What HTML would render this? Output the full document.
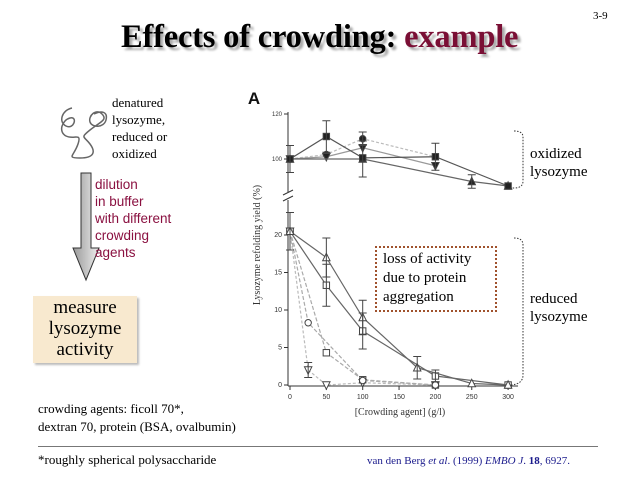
<!DOCTYPE html>
<html><head><meta charset="utf-8"><style>
body{margin:0;background:#fff;width:638px;height:479px;overflow:hidden;position:relative;font-family:"Liberation Serif",serif}
.a{position:absolute;white-space:nowrap}
</style></head><body>
<div class="a" style="left:593px;top:10px;font-size:11px">3-9</div>
<div class="a" style="left:121px;top:19px;font-size:32.5px;font-weight:bold;letter-spacing:-0.2px;text-shadow:3px 3px 2px #aaa">Effects of crowding: <span style="color:#7a0f35">example</span></div>

<svg class="a" style="left:52px;top:100px" width="60" height="65" viewBox="0 0 60 65"><path d="M20 8c-10 2-14 14-6 18s12-10 4-8-12 14-4 18 16-4 12 8-12 14 2 14 16-6 10-14-10-6 0-14 18-10 12-16-14 2-12 8 14 6 16-2-4-10-12-6" fill="none" stroke="#666" stroke-width="1.5"/></svg>
<div class="a" style="left:112px;top:94px;font-size:13px;line-height:17px">denatured<br>lysozyme,<br>reduced or<br>oxidized</div>
<svg class="a" style="left:72px;top:172px" width="30" height="110"><defs><linearGradient id="g" x1="0" x2="1"><stop offset="0" stop-color="#999"/><stop offset="1" stop-color="#eee"/></linearGradient></defs><path d="M9 1h10v75h8L14 108 1 76h8z" fill="url(#g)" stroke="#333"/></svg>
<div class="a" style="left:95px;top:176px;font-family:'Liberation Sans',sans-serif;font-size:13.5px;line-height:17px;color:#8a1040">dilution<br>in buffer<br>with different<br>crowding<br>agents</div>
<div class="a" style="left:33px;top:296px;width:104px;height:66px;background:#f8e9cf;box-shadow:2px 2px 2px #bbb;text-align:center;font-size:19px;line-height:21px;padding-top:1px">measure<br>lysozyme<br>activity</div>

<svg class="a" id="chart" style="left:0;top:0" width="638" height="479"></svg>

<div class="a" style="left:530px;top:145px;font-size:15px;line-height:18px">oxidized<br>lysozyme</div>
<div class="a" style="left:530px;top:290px;font-size:15px;line-height:18px">reduced<br>lysozyme</div>
<div class="a" style="left:375px;top:246px;width:112px;height:60px;border:2px dotted #a0522d;background:#fff;font-size:15px;line-height:19px;padding:2px 0 0 6px">loss of activity<br>due to protein<br>aggregation</div>

<div class="a" style="left:38px;top:400px;font-size:13px;line-height:18px">crowding agents: ficoll 70*,<br>dextran 70, protein (BSA, ovalbumin)</div>
<div class="a" style="left:38px;top:446px;width:560px;height:1px;background:#777"></div>
<div class="a" style="left:38px;top:452px;font-size:13px">*roughly spherical polysaccharide</div>
<div class="a" style="left:367px;top:455px;font-size:11px;color:#1a1a8c">van den Berg <i>et al</i>. (1999) <i>EMBO J</i>. <b>18</b>, 6927.</div>

<script>
const xTicks=[0,50,100,150,200,250,300];
const upTicks=[100,120];
const lowTicks=[0,5,10,15,20];
const oxSquareX=[0,50,100,200,300], oxSquareY=[100,110,100.5,101,88];
const oxCircleX=[0,50,100,200], oxCircleY=[100,102,109,101];
const oxDownX=[0,50,100,200], oxDownY=[100,101,105,97];
const oxUpX=[0,100,250,300], oxUpY=[100,100,90,88];
const redTriX=[0,50,100,175,250,300], redTriY=[20.5,17,9,2.3,0.2,0];
const redSqX=[0,50,100,200,300], redSqY=[20.5,13.3,7.2,1.2,0];
const redCircX=[0,25,100,200], redCircY=[20.5,8.3,0.6,0];
const redSq2X=[0,50,100,200], redSq2Y=[20.5,4.3,0.7,0];
const redDownX=[0,25,50,100,200], redDownY=[20.5,2,0,0.3,0];

const svg=document.getElementById('chart');const NS='http://www.w3.org/2000/svg';
const X=v=>290+v*0.727, YU=v=>159-(v-100)*2.25, YL=v=>385-v*7.5;
function el(t,a,n){const e=document.createElementNS(NS,t);for(const k in a)e.setAttribute(k,a[k]);


svg.appendChild(e);return e;}
function txt(x,y,s,sz,anchor,n,extra){const e=el('text',Object.assign({x:x,y:y,'font-size':sz,'font-family':'Liberation Sans, sans-serif','text-anchor':anchor||'middle',fill:'#333'},extra||{}),n);e.textContent=s;return e;}
el('line',{x1:288,y1:112,x2:288,y2:192,stroke:'#333'},'upper-y-axis');
el('line',{x1:288,y1:200,x2:288,y2:386,stroke:'#333'},'lower-y-axis');
el('path',{d:'M283 195l10-5M283 201l10-5',stroke:'#333',fill:'none'},'axis-break');
el('line',{x1:288,y1:386,x2:518,y2:386,stroke:'#333'},'x-axis');
xTicks.forEach(t=>{el('line',{x1:X(t),y1:386,x2:X(t),y2:390,stroke:'#333'},'x-tick');txt(X(t),399,String(t),7,'middle','x-tick-label');});
upTicks.forEach(t=>{el('line',{x1:284,y1:YU(t),x2:288,y2:YU(t),stroke:'#333'},'y-tick');txt(282,YU(t)+2,String(t),6,'end','y-tick-label');});
lowTicks.forEach(t=>{el('line',{x1:284,y1:YL(t),x2:288,y2:YL(t),stroke:'#333'},'y-tick');txt(282,YL(t)+2,String(t),7,'end','y-tick-label');});
txt(400,415,'[Crowding agent] (g/l)',10,'middle','x-axis-title',{'font-family':'Liberation Serif, serif'});
txt(0,0,'Lysozyme refolding yield (%)',10,'middle','y-axis-title',{'font-family':'Liberation Serif, serif',transform:'translate(260 245) rotate(-90)'});
txt(254,104,'A',17,'middle','panel-label',{'font-weight':'bold',fill:'#111'});
function marker(x,y,kind,fill,n){const s=3.2;let e;
 if(kind==='sq')e=el('rect',{x:x-s,y:y-s,width:2*s,height:2*s},n);
 else if(kind==='ci')e=el('circle',{cx:x,cy:y,r:s},n);
 else if(kind==='up')e=el('path',{d:`M${x} ${y-s-1}L${x+s+0.5} ${y+s}L${x-s-0.5} ${y+s}Z`},n);
 else e=el('path',{d:`M${x} ${y+s+1}L${x+s+0.5} ${y-s}L${x-s-0.5} ${y-s}Z`},n);
 e.setAttribute('fill',fill?'#222':'#fff');e.setAttribute('stroke','#444');}
function series(xs,ys,Y,kind,fill,col,dash,n){
 el('polyline',{points:xs.map((x,i)=>X(x)+','+Y(ys[i])).join(' '),fill:'none',stroke:col,'stroke-width':1.2,'stroke-dasharray':dash||''},n+'-line');
 xs.forEach((x,i)=>marker(X(x),Y(ys[i]),kind,fill,n+'-point'));}
series(oxCircleX,oxCircleY,YU,'ci',1,'#bbb','3 2','oxidized-circle');
series(oxDownX,oxDownY,YU,'dn',1,'#999','','oxidized-down');
series(oxUpX,oxUpY,YU,'up',1,'#666','','oxidized-up');
series(oxSquareX,oxSquareY,YU,'sq',1,'#555','','oxidized-square');
series(redDownX,redDownY,YL,'dn',0,'#bbb','3 2','reduced-down');
series(redSq2X,redSq2Y,YL,'sq',0,'#aaa','4 2','reduced-square-b');
series(redCircX,redCircY,YL,'ci',0,'#aaa','4 2','reduced-circle');
series(redSqX,redSqY,YL,'sq',0,'#666','','reduced-square');
series(redTriX,redTriY,YL,'up',0,'#666','','reduced-triangle');
[[0,100,6],[50,110,7],[100,100,8],[100,109,3],[200,101,6],[250,90,3]].forEach(e=>el('path',{d:`M${X(e[0])} ${YU(e[1]-e[2])}V${YU(e[1]+e[2])}M${X(e[0])-4} ${YU(e[1]-e[2])}h8M${X(e[0])-4} ${YU(e[1]+e[2])}h8`,stroke:'#444',fill:'none'},'error-bar'));
[[0,20.5,2.5],[50,17,2.6],[50,13.3,2.8],[100,9,2.3],[100,7.2,2.4],[175,2.3,1.5],[25,2,1],[200,1.2,0.8]].forEach(e=>el('path',{d:`M${X(e[0])} ${YL(e[1]-e[2])}V${YL(e[1]+e[2])}M${X(e[0])-4} ${YL(e[1]-e[2])}h8M${X(e[0])-4} ${YL(e[1]+e[2])}h8`,stroke:'#444',fill:'none'},'error-bar'));
el('path',{d:'M514 131q9 0 9 6v44q0 7-9 7h-4',fill:'none',stroke:'#333','stroke-dasharray':'1.5 1.5'},'oxidized-bracket');
el('path',{d:'M514 238q9 0 9 7v130q0 9-12 10',fill:'none',stroke:'#333','stroke-dasharray':'1.5 1.5'},'reduced-bracket');
</script>
</body></html>
